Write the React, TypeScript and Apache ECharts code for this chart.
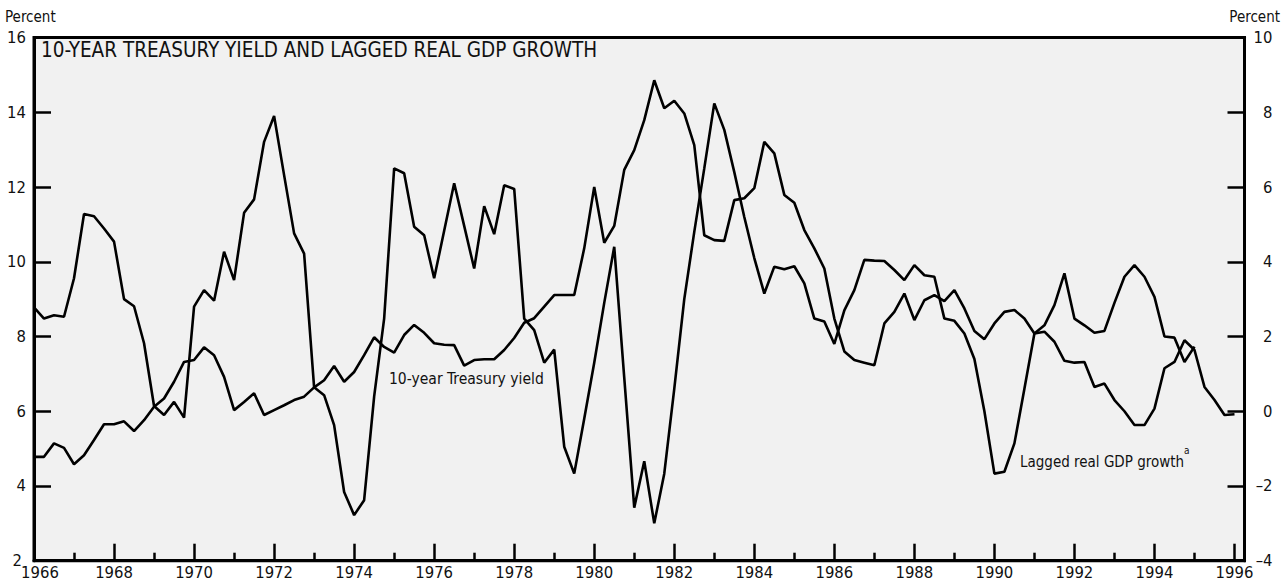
import React, { useEffect, useRef } from "react";
import * as echarts from "echarts";

// Quarterly observations, first point at 1966:Q1 (plotted at year + (quarter - 1) / 4)
const START_YEAR = 1966;

// 10-year Treasury yield, percent (left scale)
const treasuryYield = [
  4.78, 4.78, 5.14, 5.02,
  4.58, 4.82, 5.23, 5.65,
  5.65, 5.73, 5.47, 5.76,
  6.12, 6.34, 6.79, 7.32,
  7.37, 7.71, 7.5, 6.92,
  6.03, 6.25, 6.48, 5.9,
  6.03, 6.16, 6.3, 6.39,
  6.64, 6.83, 7.21, 6.79,
  7.05, 7.5, 7.98, 7.72,
  7.57, 8.04, 8.31, 8.1,
  7.82, 7.78, 7.77, 7.22,
  7.37, 7.39, 7.39, 7.64,
  7.96, 8.37, 8.49, 8.8,
  9.11, 9.11, 9.11, 10.36,
  12.0, 10.51, 10.96, 12.46,
  12.99, 13.79, 14.86, 14.11,
  14.31, 13.97, 13.12, 10.71,
  10.58, 10.56, 11.65, 11.7,
  11.97, 13.21, 12.9, 11.79,
  11.58, 10.85, 10.36, 9.82,
  8.48, 7.6, 7.37, 7.3,
  7.23, 8.35, 8.66, 9.15,
  8.44, 8.97, 9.11, 8.95,
  9.24, 8.75, 8.15, 7.93,
  8.35, 8.66, 8.71, 8.48,
  8.08, 8.13, 7.86, 7.35,
  7.3, 7.32, 6.65, 6.74,
  6.3, 6.0, 5.63, 5.63,
  6.07, 7.15, 7.32, 7.9,
  7.64, 6.65, 6.3, 5.9,
  5.92,
];

// Lagged real GDP growth, percent (right scale)
const laggedGdpGrowth = [
  2.78, 2.48, 2.57, 2.53,
  3.56, 5.28, 5.22, 4.89,
  4.54, 3.0, 2.81, 1.82,
  0.14, -0.1, 0.25, -0.17,
  2.8, 3.24, 2.96, 4.27,
  3.51, 5.31, 5.67, 7.21,
  7.9, 6.32, 4.76, 4.22,
  0.64, 0.43, -0.37, -2.16,
  -2.78, -2.38, 0.39, 2.48,
  6.5, 6.37, 4.94, 4.71,
  3.56, 4.83, 6.1, 4.96,
  3.82, 5.49, 4.74, 6.05,
  5.95, 2.48, 2.17, 1.3,
  1.65, -0.95, -1.67, -0.2,
  1.3, 2.9, 4.4, 0.9,
  -2.58, -1.34, -3.0, -1.67,
  0.6, 3.0, 4.8, 6.5,
  8.24, 7.53, 6.4, 5.2,
  4.1, 3.15, 3.87, 3.8,
  3.88, 3.42, 2.48, 2.4,
  1.8, 2.7, 3.24, 4.05,
  4.03, 4.02, 3.78, 3.51,
  3.91, 3.64, 3.6, 2.48,
  2.42, 2.08, 1.4, 0.0,
  -1.67, -1.62, -0.86, 0.6,
  2.08, 2.3, 2.84, 3.69,
  2.48, 2.3, 2.1, 2.15,
  2.9, 3.6, 3.91, 3.6,
  3.06, 2.0, 1.97, 1.32,
  1.73,
];

// Axis ticks
const labeledYears = [
  1966, 1968, 1970, 1972, 1974, 1976, 1978, 1980,
  1982, 1984, 1986, 1988, 1990, 1992, 1994, 1996,
];
const oddYears = [
  1967, 1969, 1971, 1973, 1975, 1977, 1979, 1981,
  1983, 1985, 1987, 1989, 1991, 1993, 1995,
];
const LEFT_MIN = 2;

const TITLE = "10-YEAR TREASURY YIELD AND LAGGED REAL GDP GROWTH";
const YIELD_LABEL = "10-year Treasury yield";
const GDP_LABEL = "Lagged real GDP growth";
const GDP_NOTE_MARK = "a";
const UNIT_LABEL = "Percent";

const FONT =
  "'Liberation Sans Narrow', 'Arial Narrow', 'DejaVu Sans Condensed', 'Liberation Sans', sans-serif";
const INK = "#111";

const toPoints = (values: number[]) =>
  values.map((v, i) => [START_YEAR + i / 4, v]);

const fmtSigned = (v: number) => (v < 0 ? "\u2013" + Math.abs(v) : String(v));

// the corner labels ("2" and "1966") are nudged apart so they do not collide
const fmtYear = (v: number) =>
  v === labeledYears[0] ? "{first|" + v + "}" : String(v);
const fmtLeft = (v: number) =>
  v === LEFT_MIN ? "{corner|" + v + "}" : String(v);

export default function App() {
  const ref = useRef<HTMLDivElement>(null);

  useEffect(() => {
    document.body.style.margin = "0";
    if (!ref.current) return;
    const chart = echarts.init(ref.current, undefined, { renderer: "svg" });

    const axisLineStyle = { color: "#000", width: 3 };
    const tickStyle = { color: "#000", width: 2.5 };
    const labelBase = { color: INK, fontFamily: FONT, fontSize: 16.5 };

    chart.setOption({
      animation: false,
      backgroundColor: "#fff",
      grid: {
        left: 34,
        right: 36.5,
        top: 37.6,
        bottom: 23.3,
        show: true,
        backgroundColor: "#f1f1f1",
        borderColor: "#000",
        borderWidth: 3,
      },
      xAxis: [
        {
          type: "value",
          min: 1966,
          max: 1996.25,
          position: "bottom",
          axisLine: { show: true, onZero: false, lineStyle: axisLineStyle },
          axisTick: {
            show: true,
            inside: true,
            length: 17,
            lineStyle: tickStyle,
            customValues: labeledYears,
          },
          axisLabel: {
            ...labelBase,
            margin: 3,
            customValues: labeledYears,
            formatter: fmtYear,
            rich: {
              first: { ...labelBase, padding: [0, 0, 0, 12] },
            },
          },
          splitLine: { show: false },
        },
        {
          type: "value",
          min: 1966,
          max: 1996.25,
          position: "bottom",
          axisLine: { show: false, onZero: false },
          axisTick: {
            show: true,
            inside: true,
            length: 8,
            lineStyle: tickStyle,
            customValues: oddYears,
          },
          axisLabel: { show: false },
          splitLine: { show: false },
        },
      ],
      yAxis: [
        {
          type: "value",
          min: LEFT_MIN,
          max: 16,
          interval: 2,
          position: "left",
          axisLine: { show: true, onZero: false, lineStyle: axisLineStyle },
          axisTick: { show: true, inside: true, length: 17, lineStyle: tickStyle },
          axisLabel: {
            ...labelBase,
            margin: 8,
            formatter: fmtLeft,
            rich: {
              corner: { ...labelBase, padding: [0, 4, 0, 0] },
            },
          },
          splitLine: { show: false },
        },
        {
          type: "value",
          min: -4,
          max: 10,
          interval: 2,
          position: "right",
          axisLine: { show: true, onZero: false, lineStyle: axisLineStyle },
          axisTick: { show: true, inside: true, length: 17, lineStyle: tickStyle },
          axisLabel: {
            ...labelBase,
            margin: 28,
            align: "right",
            formatter: fmtSigned,
          },
          splitLine: { show: false },
        },
      ],
      series: [
        {
          name: YIELD_LABEL,
          type: "line",
          xAxisIndex: 0,
          yAxisIndex: 0,
          data: toPoints(treasuryYield),
          symbol: "none",
          lineStyle: { color: "#000", width: 2.6 },
          z: 3,
        },
        {
          name: GDP_LABEL,
          type: "line",
          xAxisIndex: 0,
          yAxisIndex: 1,
          data: toPoints(laggedGdpGrowth),
          symbol: "none",
          lineStyle: { color: "#000", width: 2.6 },
          z: 3,
        },
      ],
      graphic: [
        {
          type: "text",
          x: 41,
          y: 50,
          z: 10,
          style: {
            text: TITLE,
            fill: INK,
            fontFamily: FONT,
            fontSize: 20.5,
            verticalAlign: "middle",
          },
        },
        {
          type: "text",
          x: 5,
          y: 17,
          style: {
            text: UNIT_LABEL,
            fill: INK,
            fontFamily: FONT,
            fontSize: 15,
            verticalAlign: "middle",
          },
        },
        {
          type: "text",
          x: 1280,
          y: 17,
          style: {
            text: UNIT_LABEL,
            fill: INK,
            fontFamily: FONT,
            fontSize: 15,
            align: "right",
            verticalAlign: "middle",
          },
        },
        {
          type: "text",
          x: 389,
          y: 379,
          z: 10,
          style: {
            text: YIELD_LABEL,
            fill: INK,
            fontFamily: FONT,
            fontSize: 15.5,
            verticalAlign: "middle",
          },
        },
        {
          type: "text",
          x: 1020,
          y: 462,
          z: 10,
          style: {
            text: GDP_LABEL,
            fill: INK,
            fontFamily: FONT,
            fontSize: 15,
            verticalAlign: "middle",
          },
        },
        {
          // footnote marker, set as a superscript after the label
          type: "text",
          x: 1184,
          y: 450,
          z: 10,
          style: {
            text: GDP_NOTE_MARK,
            fill: INK,
            fontFamily: FONT,
            fontSize: 10,
            verticalAlign: "middle",
          },
        },
      ],
    });

    return () => chart.dispose();
  }, []);

  return (
    <div
      ref={ref}
      style={{ position: "fixed", left: 0, top: 0, width: 1281, height: 584 }}
    />
  );
}
